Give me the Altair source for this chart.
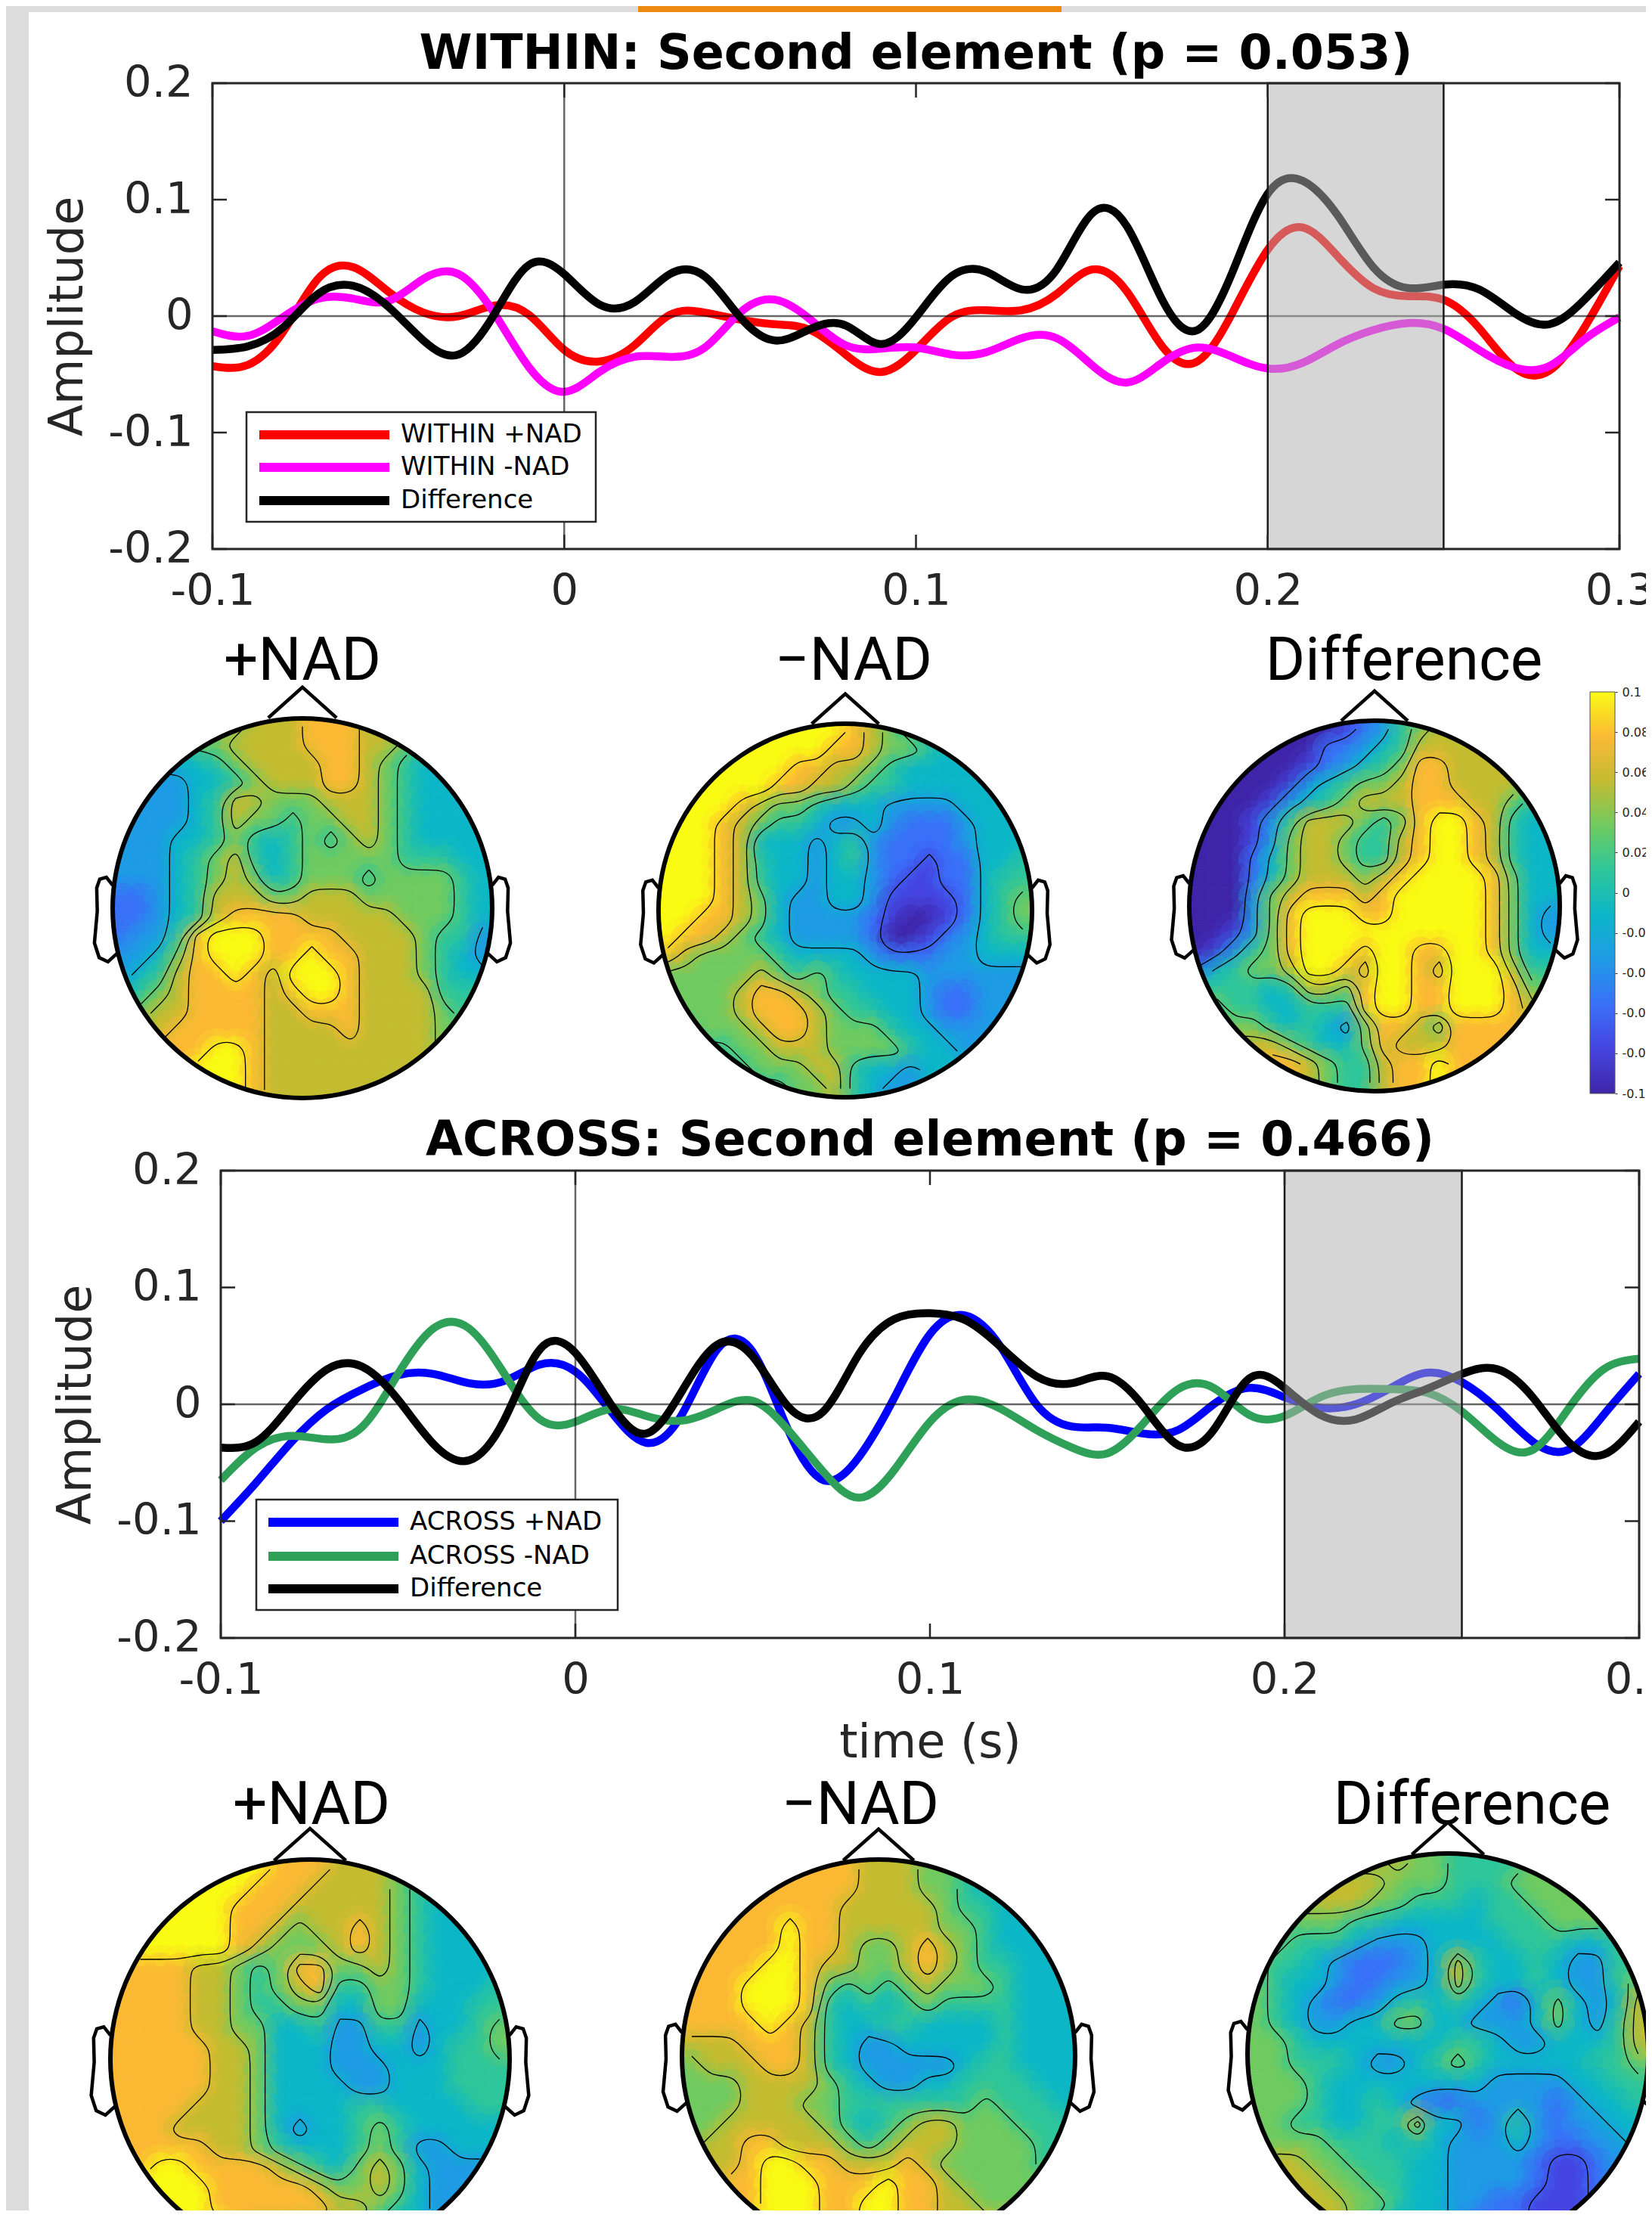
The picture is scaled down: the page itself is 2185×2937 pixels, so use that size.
import altair as alt
import pandas as pd

W, H = 2169, 2915
TIME = [round(-0.1 + i * 0.01, 2) for i in range(41)]

WITHIN_POS = [-0.043,-0.042,-0.014,0.032,0.042,0.021,0.003,0.0,0.009,0.001,-0.029,-0.039,-0.025,0.001,0.003,-0.003,-0.007,-0.012,-0.033,-0.048,-0.029,
              -0.001,0.005,0.005,0.019,0.040,0.021,-0.026,-0.039,0.003,0.057,0.076,0.051,0.024,0.017,0.014,-0.010,-0.044,-0.047,-0.010,0.043]
WITHIN_NEG = [-0.013,-0.017,-0.001,0.015,0.015,0.013,0.032,0.036,0.003,-0.044,-0.065,-0.048,-0.035,-0.035,-0.027,0.003,0.014,-0.003,-0.025,-0.028,-0.027,
              -0.033,-0.031,-0.019,-0.019,-0.042,-0.057,-0.040,-0.027,-0.035,-0.045,-0.040,-0.024,-0.012,-0.006,-0.011,-0.029,-0.044,-0.043,-0.020,-0.001]
WITHIN_DIF = [-0.029,-0.026,-0.010,0.019,0.026,0.008,-0.021,-0.033,0.001,0.044,0.036,0.010,0.012,0.036,0.034,-0.001,-0.021,-0.011,-0.008,-0.024,-0.001,
              0.034,0.038,0.023,0.040,0.088,0.077,0.014,-0.012,0.038,0.105,0.116,0.086,0.042,0.024,0.027,0.023,0.003,-0.007,0.014,0.046]
ACROSS_POS = [-0.100,-0.067,-0.032,-0.004,0.013,0.025,0.026,0.018,0.020,0.034,0.028,-0.006,-0.033,-0.009,0.047,0.045,-0.022,-0.065,-0.045,0.006,0.060,
              0.076,0.049,0.0,-0.019,-0.020,-0.025,-0.022,0.0,0.014,0.006,-0.003,0.0,0.014,0.027,0.019,-0.004,-0.032,-0.039,-0.009,0.026]
ACROSS_NEG = [-0.065,-0.037,-0.027,-0.030,-0.019,0.026,0.065,0.065,0.026,-0.013,-0.015,-0.004,-0.010,-0.014,-0.004,0.003,-0.022,-0.058,-0.080,-0.056,-0.015,
              0.004,-0.004,-0.022,-0.037,-0.042,-0.017,0.013,0.014,-0.009,-0.010,0.006,0.013,0.013,0.010,-0.006,-0.032,-0.039,-0.004,0.030,0.039]
ACROSS_DIF = [-0.037,-0.032,0.0,0.030,0.032,0.004,-0.034,-0.048,-0.013,0.047,0.044,0.0,-0.025,0.011,0.051,0.041,-0.002,-0.006,0.043,0.073,0.078,
              0.072,0.049,0.024,0.018,0.024,-0.001,-0.035,-0.022,0.022,0.014,-0.009,-0.013,0.001,0.013,0.026,0.030,0.006,-0.032,-0.043,-0.015]

X_TICKS = [-0.1, 0, 0.1, 0.2, 0.3]
Y_TICKS = [-0.2, -0.1, 0, 0.1, 0.2]
BAR_TICKS = [-0.1,-0.08,-0.06,-0.04,-0.02,0,0.02,0.04,0.06,0.08,0.1]
PALETTE = ["#3e26a8","#4644e0","#3a70f8","#1f9be6","#0cb6c8","#2ec79b","#6fcb60","#c3bc32","#fbb935","#f9fb15"]
LEVELS = list(range(10))
CONTOURS = [1.5, 3.5, 5.5, 6.5, 7.5, 8.5]

MAP1 = ["55566667778887766555","55556677778887766555","44444567777887654444","33334456777887654444",
        "33334577666777654444","33334576656677654444","33344565456567654444","33345675456666655544",
        "33345676456665666654","22345777667776666654","22345788887777766654","23358999888877776553",
        "33468999889887776543","34578898799987776544","45678888789987777555","56778888778887777655",
        "67788888777787777666","77888998777777777666","77889998777777777666","77889998777777777666"]
MAP2 = ["99999999998765444444","99999999988766544444","99999998877654444444","99999988776554444433",
        "99998766544433334444","99987655433432223444","99987444345322223444","99987544345322122445",
        "99987544344321122455","99987643344311112456","99887643333210012456","98876543333200123455",
        "87666654444322233444","66666765654444333333","66667887655444322333","56667888765544322333",
        "55666788766654433333","45556677766665443333","44555666775443444444","44445556675433444444"]
MAP3 = ["00000000123567777777","00000002234577777777","00000012345688777766","00000134566788777766",
        "00001345677788877655","00013577765689987544","00013677655789987544","00024677655789987544",
        "00024677767899998644","00036788878999998644","00036899988999998643","00136899999999998643",
        "01356899989988998644","24566799879987999755","55554577689988999866","66554455589988999877",
        "66665454368876888877","77777654468777888887","88888876557889888888","88888876557889888888"]
MAP4 = ["99999999888777655444","99999998887777654444","99999988877777654444","99999988767787654444",
        "99999987666787654444","88887765688667654444","88887765678556654445","88887765566446644455",
        "88887766445335534456","88888776444334434556","88888776444333444555","88888776444433444555",
        "88887776444455444455","88877776434456544444","88888776544456533444","88998888765467643333",
        "89999888887667643333","99999888888776543333","99999987777665443333","99999987766654433333"]
MAP5 = ["78888888877766544444","88888888877766544444","88888888777776554444","88888988777776654444",
        "88888988766787654444","88889987766787655444","88899986565676665444","88899985454565555444",
        "88889875445544445444","77788875433444445444","67778875433333455444","66677776543344555544",
        "66677766555555565554","66777776545677666555","67788777656777666655","77789988777876666655",
        "77889998889887666666","88889998899887766666","88889998899887777766","88888988888877776666"]
MAP6 = ["66666667665555666666","77777776665556666666","77777766555455666666","66666554444455566666",
        "66555433344445554456","65543222347544543355","65443223347544543356","65432234545432464347",
        "65433446644333464357","66544444445543344457","66555433456544444556","66654444444433334455",
        "66654454322333323445","66554455744235323344","66665554543334322334","77766555443333211233",
        "77776655443333211233","77777665443322111233","77777654443222111233","77777654443222111233"]

EAR_X = [-1.0,-1.033,-1.068,-1.084,-1.081,-1.096,-1.071,-1.025,-0.975]
EAR_Y = [0.12,0.162,0.152,0.106,-0.015,-0.182,-0.258,-0.28,-0.235]
NOSE_X = [-0.18,0.0,0.18]
NOSE_Y = [0.995,1.155,0.995]


def px(v):
    return v - 8


def contour_paths(rows):
    n = len(rows)
    g = [[int(c) for c in r] for r in rows]
    xc = [-0.95 + 0.1 * i for i in range(n)]
    yc = [0.95 - 0.1 * i for i in range(n)]
    raw = []
    for lev in CONTOURS:
        segs = []
        for r in range(n - 1):
            for c in range(n - 1):
                a, b, d, e = g[r][c], g[r][c + 1], g[r + 1][c + 1], g[r + 1][c]
                pts = []
                if (a > lev) != (b > lev):
                    pts.append((xc[c] + 0.1 * (lev - a) / (b - a), yc[r]))
                if (b > lev) != (d > lev):
                    pts.append((xc[c + 1], yc[r] - 0.1 * (lev - b) / (d - b)))
                if (d > lev) != (e > lev):
                    pts.append((xc[c + 1] - 0.1 * (lev - d) / (e - d), yc[r + 1]))
                if (e > lev) != (a > lev):
                    pts.append((xc[c], yc[r + 1] + 0.1 * (lev - e) / (a - e)))
                if len(pts) == 2:
                    segs.append((pts[0], pts[1]))
                elif len(pts) == 4:
                    segs.append((pts[0], pts[1]))
                    segs.append((pts[2], pts[3]))
        key = lambda p: (round(p[0], 4), round(p[1], 4))
        adj = {}
        for i, (p, q) in enumerate(segs):
            adj.setdefault(key(p), []).append(i)
            adj.setdefault(key(q), []).append(i)
        used = set()

        def walk(start, path):
            cur = start
            while True:
                nxt = [i for i in adj[key(cur)] if i not in used]
                if not nxt:
                    return path
                i = nxt[0]
                used.add(i)
                p, q = segs[i]
                cur = q if key(p) == key(cur) else p
                path.append(cur)

        ends = [k for k, v in adj.items() if len(v) == 1]
        for k in ends:
            for i in adj[k]:
                if i not in used:
                    p, q = segs[i]
                    first = p if key(p) == k else q
                    raw.append(walk(first, [first]))
        for i in range(len(segs)):
            if i not in used:
                raw.append(walk(segs[i][0], [segs[i][0]]))
    out = []
    pid = 0
    for path in raw:
        cnt = 0
        for x, y in path:
            if x * x + y * y > 1.06:
                if cnt:
                    pid += 1
                cnt = 0
                continue
            out.append({"path": pid, "i": cnt, "x": x, "y": y})
            cnt += 1
        pid += 1
    return pd.DataFrame(out)


AXIS_FONT = "DejaVu Sans"
INK = "#262626"
ONE = pd.DataFrame({"a": [0]})
layers = []


def plot_panel(title, series, legend_names, colors, x_px, y_px, legend_px, title_y, xtitle):
    xs = alt.Scale(domain=[-0.1, 0.3], range=[px(x_px[0]), px(x_px[1])])
    ys = alt.Scale(domain=[-0.2, 0.2], range=[px(y_px[1]), px(y_px[0])])
    X = lambda f, axis=None: alt.X(f, type="quantitative", scale=xs, axis=axis)
    Y = lambda f, axis=None: alt.Y(f, type="quantitative", scale=ys, axis=axis)
    x_axis = alt.Axis(orient="bottom", offset=-(H - px(y_px[1])), values=X_TICKS, grid=False, domain=False, ticks=False,
                      labelFont=AXIS_FONT, labelFontSize=57.5, labelColor=INK, labelPadding=28, labelOverlap=False, labelFlush=False,
                      labelExpr="toString(round(datum.value*10)/10)", title=xtitle if xtitle else None,
                      titleFont=AXIS_FONT, titleFontSize=62, titleFontWeight="normal", titleColor=INK,
                      titleX=px((x_px[0] + x_px[1]) / 2), titleY=138, titleBaseline="middle")
    y_axis = alt.Axis(orient="left", offset=-px(x_px[0]), values=Y_TICKS, grid=False, domain=False, ticks=False,
                      labelFont=AXIS_FONT, labelFontSize=57.5, labelColor=INK, labelPadding=26, labelOverlap=False, labelFlush=False,
                      labelExpr="toString(round(datum.value*10)/10)", title="Amplitude",
                      titleFont=AXIS_FONT, titleFontSize=62, titleFontWeight="normal", titleColor=INK,
                      titleX=-192, titleY=px((y_px[0] + y_px[1]) / 2), titleBaseline="middle", titleAngle=270)
    for k, (vals, col) in enumerate(zip(series, colors)):
        df = pd.DataFrame({"t": TIME, "v": vals})
        layers.append(alt.Chart(df).mark_line(color=col, strokeWidth=10.5, interpolate="natural", strokeCap="butt", clip=True).encode(
            x=X("t", x_axis if k == 0 else None), y=Y("v", y_axis if k == 0 else None)))
    layers.append(alt.Chart(pd.DataFrame({"x": [0]})).mark_rule(color="#000000", opacity=0.6, strokeWidth=2.5).encode(
        x=X("x"), y=alt.value(px(y_px[0])), y2=alt.value(px(y_px[1]))))
    layers.append(alt.Chart(pd.DataFrame({"y": [0]})).mark_rule(color="#000000", opacity=0.6, strokeWidth=2.5).encode(
        y=Y("y"), x=alt.value(px(x_px[0])), x2=alt.value(px(x_px[1]))))
    win = pd.DataFrame({"x": [0.2], "x2": [0.25], "y": [-0.2], "y2": [0.2]})
    layers.append(alt.Chart(win).mark_rect(fill="#afafaf", opacity=0.514).encode(
        x=X("x"), x2=alt.X2("x2"), y=Y("y"), y2=alt.Y2("y2")))
    layers.append(alt.Chart(win).mark_rect(fill=None, stroke="#1a1a1a", strokeWidth=2.5).encode(
        x=X("x"), x2=alt.X2("x2"), y=Y("y"), y2=alt.Y2("y2")))
    tx = pd.DataFrame({"x": X_TICKS})
    ty = pd.DataFrame({"y": Y_TICKS})
    for a, b in ((y_px[0], y_px[0] + 19), (y_px[1] - 19, y_px[1])):
        layers.append(alt.Chart(tx).mark_rule(color=INK, strokeWidth=2.5).encode(
            x=X("x"), y=alt.value(px(a)), y2=alt.value(px(b))))
    for a, b in ((x_px[0], x_px[0] + 19), (x_px[1] - 19, x_px[1])):
        layers.append(alt.Chart(ty).mark_rule(color=INK, strokeWidth=2.5).encode(
            y=Y("y"), x=alt.value(px(a)), x2=alt.value(px(b))))
    layers.append(alt.Chart(win.assign(x=-0.1, x2=0.3)).mark_rect(fill=None, stroke=INK, strokeWidth=3).encode(
        x=X("x"), x2=alt.X2("x2"), y=Y("y"), y2=alt.Y2("y2")))
    lx0, lx1, ly0, ly1, sx0, sx1, tx0, rows = legend_px
    layers.append(alt.Chart(ONE).mark_rect(fill="#ffffff", stroke=INK, strokeWidth=2.5).encode(
        x=alt.value(px(lx0)), x2=alt.value(px(lx1)), y=alt.value(px(ly0)), y2=alt.value(px(ly1))))
    for name, col, ry in zip(legend_names, colors, rows):
        layers.append(alt.Chart(ONE).mark_rule(color=col, strokeWidth=12).encode(
            x=alt.value(px(sx0)), x2=alt.value(px(sx1)), y=alt.value(px(ry))))
        layers.append(alt.Chart(pd.DataFrame({"s": [name]})).mark_text(
            font=AXIS_FONT, fontSize=34, color="#000000", align="left", baseline="middle").encode(
            x=alt.value(px(tx0)), y=alt.value(px(ry)), text="s:N"))
    layers.append(alt.Chart(pd.DataFrame({"s": [title]})).mark_text(
        font=AXIS_FONT, fontSize=63.5, fontWeight="bold", color="#000000", align="center", baseline="middle").encode(
        x=alt.value(px((x_px[0] + x_px[1]) / 2)), y=alt.value(px(title_y)), text="s:N"))


def map_panel(rows, label, cx, cy, rx, ry, label_x, label_y):
    xs = alt.Scale(domain=[-1, 1], range=[px(cx - rx), px(cx + rx)])
    ys = alt.Scale(domain=[-1, 1], range=[px(cy + ry), px(cy - ry)])
    X = lambda f: alt.X(f, type="quantitative", scale=xs, axis=None)
    Y = lambda f: alt.Y(f, type="quantitative", scale=ys, axis=None)
    C = alt.Color("level:Q", scale=alt.Scale(domain=LEVELS, range=PALETTE), legend=None)
    cells = []
    for r, row in enumerate(rows):
        for c, ch in enumerate(row):
            x = -0.95 + 0.1 * c
            y = 0.95 - 0.1 * r
            if x * x + y * y < 1.2:
                cells.append({"x0": x - 0.05, "x1": x + 0.05, "y0": y - 0.05, "y1": y + 0.05, "x": x, "y": y, "level": int(ch)})
    df = pd.DataFrame(cells)
    layers.append(alt.Chart(df).mark_rect(stroke=None).encode(
        x=X("x0"), x2=alt.X2("x1"), y=Y("y0"), y2=alt.Y2("y1"), color=C))
    for factor, op in ((2.5, 0.3), (1.7, 0.35)):
        d = 0.1 * rx * factor
        layers.append(alt.Chart(df).mark_circle(opacity=op, size=d * d, stroke=None).encode(x=X("x"), y=Y("y"), color=C))
    paths = contour_paths(rows)
    layers.append(alt.Chart(paths).mark_line(color="#000000", strokeWidth=1.3, interpolate="basis").encode(
        x=X("x"), y=Y("y"), detail="path:N", order="i:Q"))
    centre = pd.DataFrame({"x": [0], "y": [0]})
    layers.append(alt.Chart(centre).mark_arc(fill="#ffffff", innerRadius=rx, outerRadius=rx * 1.25, theta=0, theta2=6.2832).encode(
        x=X("x"), y=Y("y")))
    layers.append(alt.Chart(centre).mark_arc(fill="#000000", innerRadius=rx - 3, outerRadius=rx + 3, theta=0, theta2=6.2832).encode(
        x=X("x"), y=Y("y")))
    outline = []
    for j, (x, y) in enumerate(zip(EAR_X, EAR_Y)):
        outline.append({"part": "l", "i": j, "x": x, "y": y})
        outline.append({"part": "r", "i": j, "x": -x, "y": y})
    for j, (x, y) in enumerate(zip(NOSE_X, NOSE_Y)):
        outline.append({"part": "n", "i": j, "x": x, "y": y})
    layers.append(alt.Chart(pd.DataFrame(outline)).mark_line(color="#000000", strokeWidth=4.5).encode(
        x=X("x"), y=Y("y"), detail="part:N", order="i:Q"))
    layers.append(alt.Chart(pd.DataFrame({"s": [label]})).mark_text(
        font="Roboto", fontSize=80, color="#000000", align="center", baseline="middle").encode(
        x=alt.value(px(label_x)), y=alt.value(px(label_y)), text="s:N"))


layers.append(alt.Chart(ONE).mark_rect(color="#dcdcdc").encode(
    x=alt.value(0), x2=alt.value(30), y=alt.value(0), y2=alt.value(H)))
layers.append(alt.Chart(ONE).mark_rect(color="#dcdcdc").encode(
    x=alt.value(0), x2=alt.value(W), y=alt.value(0), y2=alt.value(8)))
layers.append(alt.Chart(ONE).mark_rect(color="#ee8a12").encode(
    x=alt.value(px(844)), x2=alt.value(px(1404)), y=alt.value(0), y2=alt.value(8)))

plot_panel("WITHIN: Second element (p = 0.053)", [WITHIN_POS, WITHIN_NEG, WITHIN_DIF],
           ["WITHIN +NAD", "WITHIN -NAD", "Difference"], ["#ff0000", "#ff00ff", "#000000"],
           (281, 2142), (110, 726), (326, 788, 545, 690, 343, 515, 530, (575, 618, 662)), 72, None)
map_panel(MAP1, "+NAD", 400, 1201, 251, 253, 400, 875)
map_panel(MAP2, "\u2212NAD", 1118, 1204, 247, 248, 1129, 875)
map_panel(MAP3, "Difference", 1818, 1198, 245, 246, 1857, 875)

plot_panel("ACROSS: Second element (p = 0.466)", [ACROSS_POS, ACROSS_NEG, ACROSS_DIF],
           ["ACROSS +NAD", "ACROSS -NAD", "Difference"], ["#0000ff", "#2ea058", "#000000"],
           (292, 2168), (1548, 2166), (339, 817, 1983, 2129, 355, 527, 542, (2013, 2058, 2101)), 1509, "time (s)")
map_panel(MAP4, "+NAD", 410, 2723, 264, 264, 412, 2388)
map_panel(MAP5, "\u2212NAD", 1162, 2719, 260, 260, 1138, 2388)
map_panel(MAP6, "Difference", 1915, 2716, 265, 265, 1947, 2388)

stops = [alt.GradientStop(color=c, offset=i / 9) for i, c in enumerate(PALETTE)]
grad = alt.LinearGradient(gradient="linear", stops=stops, x1=0, x2=0, y1=1, y2=0)
bar = pd.DataFrame({"x": [0], "x2": [1], "y": [-0.1], "y2": [0.1]})
bx = alt.Scale(domain=[0, 1], range=[px(2103), px(2136)])
by = alt.Scale(domain=[-0.1, 0.1], range=[px(1446), px(915)])
bar_axis = alt.Axis(orient="right", offset=-(W - px(2136)), values=BAR_TICKS, grid=False, domain=False, ticks=True,
                    tickSize=3, tickColor=INK, labelFont=AXIS_FONT, labelFontSize=16, labelColor=INK, labelPadding=6,
                    labelOverlap=False, labelFlush=False, labelExpr="toString(round(datum.value*100)/100)", title=None)
layers.append(alt.Chart(bar).mark_rect(fill=grad, stroke="#555555", strokeWidth=1).encode(
    x=alt.X("x", type="quantitative", scale=bx, axis=None), x2=alt.X2("x2"),
    y=alt.Y("y", type="quantitative", scale=by, axis=bar_axis), y2=alt.Y2("y2")))

chart = alt.layer(*layers).resolve_scale(x="independent", y="independent", color="independent").resolve_axis(
    x="independent", y="independent").properties(
    width=W, height=H, padding=0, autosize=alt.AutoSizeParams(type="none")).configure_view(stroke=None)

chart.save("out.html", embed_options={"renderer": "svg", "actions": False})
